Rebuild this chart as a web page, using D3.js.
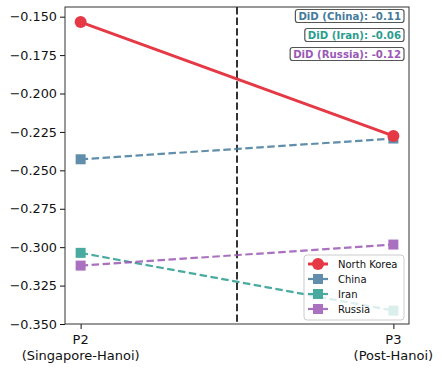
<!DOCTYPE html>
<html>
<head>
<meta charset="utf-8">
<script src="https://cdn.jsdelivr.net/npm/d3@7"></script>
<style>
  body { margin: 0; background: #fff; }
  text { font-family: "DejaVu Sans", sans-serif; }
</style>
</head>
<body>
<div id="chart"></div>
<script>
// periods on the x axis
var periods = ["P2", "P3"];
var periodSub = ["(Singapore-Hanoi)", "(Post-Hanoi)"];

// series values
var northKorea = [-0.1535, -0.2276];
var china = [-0.2428, -0.2293];
var iran = [-0.3037, -0.3413];
var russia = [-0.3120, -0.2983];

var yTicks = [-0.150, -0.175, -0.200, -0.225, -0.250, -0.275, -0.300, -0.325, -0.350];

var didLabels = ["DiD (China): -0.11", "DiD (Iran): -0.06", "DiD (Russia): -0.12"];

var series = [
  {name: "North Korea", values: northKorea, color: "#e63946", dash: null, marker: "circle", width: 3},
  {name: "China", values: china, color: "#457b9d", dash: "7.5,3.5", marker: "square", width: 2.2},
  {name: "Iran", values: iran, color: "#2a9d8f", dash: "7.5,3.5", marker: "square", width: 2.2},
  {name: "Russia", values: russia, color: "#9b59b6", dash: "7.5,3.5", marker: "square", width: 2.2}
];

var W = 442, H = 368;
var margin = {left: 65, right: 33, top: 7, bottom: 44};
var pw = W - margin.left - margin.right,
    ph = H - margin.top - margin.bottom;

var svg = d3.select("#chart").append("svg")
  .attr("width", W).attr("height", H);

var g = svg.append("g").attr("transform", "translate(" + margin.left + "," + margin.top + ")");

// matplotlib style 5% margins
var x = d3.scaleLinear().domain([-0.05, 1.05]).range([0, pw]);
var y = d3.scaleLinear().domain([-0.35, -0.1437]).range([ph, 0]);

// vertical divider between periods
g.append("line")
  .attr("x1", x(0.5)).attr("x2", x(0.5))
  .attr("y1", 0).attr("y2", ph)
  .attr("stroke", "#333").attr("stroke-width", 2)
  .attr("stroke-dasharray", "7.4,3.2");

var line = d3.line()
  .x(function(d, i) { return x(i); })
  .y(function(d) { return y(d); });

// draw the background series first so North Korea sits on top
var order = [1, 2, 3, 0];
order.forEach(function(k) {
  var s = series[k];
  var sg = g.append("g").attr("opacity", s.marker === "circle" ? 1 : 0.85);
  sg.append("path")
    .datum(s.values)
    .attr("d", line)
    .attr("fill", "none")
    .attr("stroke", s.color)
    .attr("stroke-width", s.width)
    .attr("stroke-dasharray", s.dash);
  if (s.marker === "circle") {
    sg.selectAll("circle").data(s.values).enter().append("circle")
      .attr("cx", function(d, i) { return x(i); })
      .attr("cy", function(d) { return y(d); })
      .attr("r", 6)
      .attr("fill", s.color);
  } else {
    sg.selectAll("rect").data(s.values).enter().append("rect")
      .attr("x", function(d, i) { return x(i) - 5; })
      .attr("y", function(d) { return y(d) - 5; })
      .attr("width", 10).attr("height", 10)
      .attr("fill", s.color);
  }
});

// axes
var yAxis = d3.axisLeft(y).tickValues(yTicks)
  .tickFormat(function(d) { return d3.format(".3f")(d).replace("-", "\u2212"); })
  .tickSize(5).tickPadding(3);
var ya = g.append("g").call(yAxis);
ya.select(".domain").remove();
ya.selectAll("text").attr("font-size", 12.8).attr("fill", "#111");
ya.selectAll("line").attr("stroke", "#111");

var xAxis = d3.axisBottom(x).tickValues([0, 1]).tickFormat("").tickSize(5);
var xa = g.append("g").attr("transform", "translate(0," + ph + ")").call(xAxis);
xa.select(".domain").remove();
xa.selectAll("line").attr("stroke", "#111");
[0, 1].forEach(function(i) {
  var t = g.append("text")
    .attr("x", x(i)).attr("y", ph + 20)
    .attr("font-size", 13).attr("fill", "#111");
  t.append("tspan").attr("x", x(i)).attr("text-anchor", "middle").text(periods[i]);
  t.append("tspan").attr("x", x(i)).attr("dy", 15.5).attr("text-anchor", "middle").text(periodSub[i]);
});

// DiD annotation boxes (top right)
var ann = g.append("g");
didLabels.forEach(function(txt, i) {
  var s = series[i + 1];
  var ag = ann.append("g");
  var t = ag.append("text")
    .attr("x", pw - 8).attr("y", 12.5 + i * 19)
    .attr("text-anchor", "end")
    .attr("font-size", 10.2).attr("font-weight", "bold")
    .attr("fill", s.color)
    .text(txt);
  var bb = t.node().getBBox();
  ag.insert("rect", "text")
    .attr("x", bb.x - 3).attr("y", bb.y - 1)
    .attr("width", bb.width + 6).attr("height", bb.height + 2)
    .attr("rx", 2.5)
    .attr("fill", "#fff").attr("stroke", "#555").attr("stroke-width", 1.2);
});

// legend, bottom right
var lg = g.append("g").attr("transform", "translate(" + (pw - 105) + "," + (ph - 69) + ")");
lg.append("rect")
  .attr("width", 100).attr("height", 65).attr("rx", 3)
  .attr("fill", "#fff").attr("fill-opacity", 0.8)
  .attr("stroke", "#ccc");
series.forEach(function(s, i) {
  var ly = 9 + i * 15;
  var eg = lg.append("g").attr("opacity", s.marker === "circle" ? 1 : 0.85);
  eg.append("line")
    .attr("x1", 4).attr("x2", 24).attr("y1", ly).attr("y2", ly)
    .attr("stroke", s.color).attr("stroke-width", s.width);
  if (s.marker === "circle") {
    eg.append("circle").attr("cx", 14).attr("cy", ly).attr("r", 6).attr("fill", s.color);
  } else {
    eg.append("rect").attr("x", 9).attr("y", ly - 5).attr("width", 10).attr("height", 10).attr("fill", s.color);
  }
  lg.append("text")
    .attr("x", 34).attr("y", ly + 4)
    .attr("font-size", 10).attr("fill", "#111")
    .text(s.name);
});

// frame
g.append("rect")
  .attr("width", pw).attr("height", ph)
  .attr("fill", "none").attr("stroke", "#333").attr("stroke-width", 1);
</script>
</body>
</html>
